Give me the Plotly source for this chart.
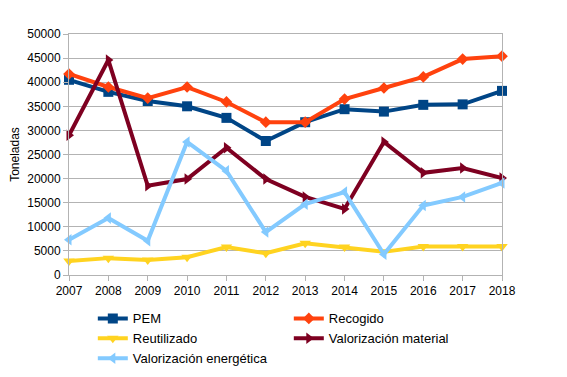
import plotly.graph_objects as go

years = [2007, 2008, 2009, 2010, 2011, 2012, 2013, 2014, 2015, 2016, 2017, 2018]
pem = [40500, 38000, 36100, 35000, 32600, 27800, 31700, 34400, 33900, 35300, 35400, 38200]
recogido = [41700, 39000, 36700, 39000, 35900, 31700, 31700, 36500, 38800, 41100, 44800, 45400]
reutilizado = [2900, 3500, 3100, 3700, 5800, 4500, 6600, 5800, 4800, 5900, 5900, 5900]
val_material = [29000, 44600, 18500, 19900, 26400, 19900, 16200, 13700, 27600, 21200, 22200, 20100]
val_energetica = [7300, 11800, 7100, 27600, 21600, 8900, 14700, 17200, 4300, 14400, 16200, 19100]

series = [
    ("PEM", pem, "#004586", "square", 10),
    ("Recogido", recogido, "#ff420e", "diamond", 9),
    ("Reutilizado", reutilizado, "#ffd320", "triangle-down", 10),
    ("Valorización material", val_material, "#7e0021", "triangle-right", 10),
    ("Valorización energética", val_energetica, "#83caff", "triangle-left", 10),
]

fig = go.Figure()
for name, vals, color, sym, size in series:
    fig.add_trace(go.Scatter(
        x=years, y=vals, name=name, mode="lines+markers",
        line=dict(color=color, width=4),
        marker=dict(symbol=sym, size=size, color=color),
        cliponaxis=False,
    ))

fig.update_layout(
    width=567, height=377,
    margin=dict(l=61, r=73, t=26, b=110, autoexpand=False),
    paper_bgcolor="white", plot_bgcolor="white",
    font=dict(family="Liberation Sans, Arial, sans-serif", size=12, color="#000000"),
    showlegend=True,
    legend=dict(orientation="h", x=0.055, xanchor="left", y=-0.118, yanchor="top",
                entrywidth=151, font=dict(size=13), tracegroupgap=0,
                itemwidth=30),
)
fig.update_xaxes(
    range=[2007, 2018], tickvals=years, ticktext=[str(y) for y in years],
    showgrid=False, showline=True, linecolor="#b3b3b3", linewidth=1, mirror=True,
    ticks="outside", ticklen=5, tickcolor="#b3b3b3", zeroline=False,
)
fig.update_yaxes(
    range=[0, 50000], dtick=5000, tickformat="d",
    showgrid=True, gridcolor="#b3b3b3", gridwidth=1,
    showline=True, linecolor="#b3b3b3", linewidth=1, mirror=True,
    ticks="outside", ticklen=5, tickcolor="#b3b3b3", zeroline=False,
    title=dict(text="Toneladas", standoff=22, font=dict(size=12)),
)

fig.write_html("out.html")
